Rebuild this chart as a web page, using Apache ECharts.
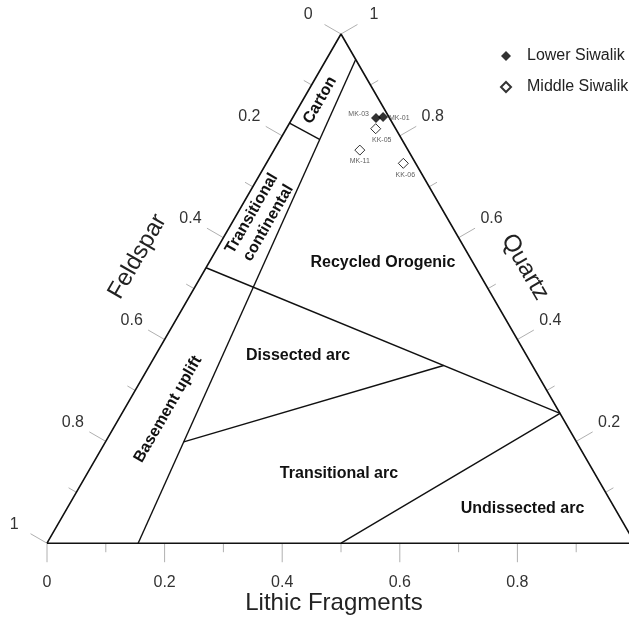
<!DOCTYPE html>
<html><head><meta charset="utf-8">
<script src="https://cdn.jsdelivr.net/npm/echarts@6/dist/echarts.min.js"></script>
<style>html,body{margin:0;padding:0;background:#fff}#c{width:629px;height:620px}</style>
</head><body><div id="c"></div>
<script>
// ---- data (fractions Q, F, L) ----
const lowerNames = ['MK-03', 'MK-01'];
const lowerQ = [0.835, 0.837];
const lowerF = [0.023, 0.010];
const lowerL = [0.142, 0.153];

const middleNames = ['KK-05', 'MK-11', 'KK-06'];
const middleQ = [0.814, 0.772, 0.746];
const middleF = [0.034, 0.082, 0.021];
const middleL = [0.152, 0.146, 0.233];

const tickValues = [0, 0.1, 0.2, 0.3, 0.4, 0.5, 0.6, 0.7, 0.8, 0.9, 1];
const labelValues = [0, 0.2, 0.4, 0.6, 0.8, 1];
const tickLabels = ['0', '0.2', '0.4', '0.6', '0.8', '1'];

const axisTitles = ['Lithic Fragments', 'Feldspar', 'Quartz'];
const fieldNames = ['Carton', 'Transitional\ncontinental', 'Recycled Orogenic', 'Dissected arc',
  'Basement uplift', 'Transitional arc', 'Undissected arc'];

// provenance field boundaries, endpoints as [Q, F, L]
const boundaryStart = [[0.95, 0, 0.05], [0.825, 0.175, 0], [0.541, 0.459, 0], [0.199, 0.668, 0.133], [0, 0.5, 0.5]];
const boundaryEnd   = [[0, 0.845, 0.155], [0.793, 0.140, 0.067], [0.255, 0, 0.745], [0.349, 0.151, 0.5], [0.255, 0, 0.745]];

// triangle vertices [Q, F, L]
const vertices = [[0, 1, 0], [0, 0, 1], [1, 0, 0], [0, 1, 0]];

// ---- ternary -> cartesian ----
const SQ = Math.sqrt(3) / 2;
function tern(q, f, l) { return [l + q / 2, q * SQ]; }
function axisPoint(a, v) {
  if (a === 0) return tern(0, 1 - v, v);   // Lithic (bottom)
  if (a === 1) return tern(1 - v, v, 0);   // Feldspar (left)
  return tern(v, 0, 1 - v);                // Quartz (right)
}
const DIRS = [[0, 1], [-SQ, -0.5], [SQ, -0.5]];

const tickData = [];
for (let a = 0; a < 3; a++) tickValues.forEach((v, i) => {
  const p = axisPoint(a, v); tickData.push([p[0], p[1], a, i % 2 === 0 ? 1 : 0]);
});
const labelData = [], labelText = [];
for (let a = 0; a < 3; a++) labelValues.forEach((v, i) => {
  const p = axisPoint(a, v); labelData.push([p[0], p[1], a]); labelText.push(tickLabels[i]);
});

// text anchors (cartesian data space) and rotations
const fieldAnchors = [[0.4643, 0.7534, 60], [0.3622, 0.5527, 60], [0.5714, 0.4779, 0], [0.4269, 0.3197, 0],
  [0.2058, 0.2279, 60], [0.4966, 0.1190, 0], [0.8087, 0.0595, 0]];
const titleAnchors = [[0.488, -0.102, 0], [0.1539, 0.4872, 60], [0.8129, 0.4694, -60]];

const FONT = '"Liberation Sans", Arial, Helvetica, sans-serif';

const labelPos = {
  'MK-03': { position: 'left', distance: 2, offset: [0, -4] },
  'MK-01': { position: 'right', distance: 1, offset: [0, 1] },
  'KK-05': { position: 'bottom', distance: 2, offset: [6, 0] },
  'MK-11': { position: 'bottom', distance: 2, offset: [0, 0] },
  'KK-06': { position: 'bottom', distance: 3, offset: [2, 0] }
};
function pointData(names, Q, F, L) {
  return names.map((n, i) => ({
    name: n, value: tern(Q[i], F[i], L[i]),
    label: Object.assign({ show: true, formatter: n, fontSize: 7, color: '#333', fontFamily: FONT }, labelPos[n])
  }));
}

const series = [];
series.push({
  type: 'line', data: vertices.map(v => tern(v[0], v[1], v[2])), symbol: 'none', silent: true,
  lineStyle: { color: '#111', width: 1.6 }, z: 3
});
boundaryStart.forEach((s, i) => {
  const e = boundaryEnd[i];
  series.push({
    type: 'line', data: [tern(s[0], s[1], s[2]), tern(e[0], e[1], e[2])], symbol: 'none', silent: true,
    lineStyle: { color: '#111', width: 1.4 }, z: 3
  });
});
series.push({
  type: 'custom', coordinateSystem: 'cartesian2d', data: tickData, silent: true, clip: false,
  renderItem: function (params, api) {
    const p = api.coord([api.value(0), api.value(1)]);
    const d = DIRS[api.value(2)], len = api.value(3) ? 19 : 9;
    return { type: 'line', shape: { x1: p[0], y1: p[1], x2: p[0] + d[0] * len, y2: p[1] + d[1] * len },
      style: { stroke: '#b0b0b0', lineWidth: 1 } };
  }
});
series.push({
  type: 'custom', coordinateSystem: 'cartesian2d', data: labelData, silent: true, clip: false,
  renderItem: function (params, api) {
    const p = api.coord([api.value(0), api.value(1)]);
    const a = api.value(2), d = DIRS[a], off = a === 0 ? 39 : 38;
    return { type: 'text', x: p[0] + d[0] * off, y: p[1] + d[1] * off,
      style: { text: labelText[params.dataIndex], fill: '#333', fontSize: 16, fontFamily: FONT,
        align: 'center', verticalAlign: 'middle' } };
  }
});
series.push({
  type: 'custom', coordinateSystem: 'cartesian2d', data: fieldAnchors, silent: true, clip: false,
  renderItem: function (params, api) {
    const p = api.coord([api.value(0), api.value(1)]);
    return { type: 'text', x: p[0], y: p[1], rotation: api.value(2) * Math.PI / 180,
      style: { text: fieldNames[params.dataIndex], fill: '#111', fontSize: 16, fontWeight: 'bold',
        fontFamily: FONT, align: 'center', verticalAlign: 'middle', lineHeight: 19 } };
  }
});
series.push({
  type: 'custom', coordinateSystem: 'cartesian2d', data: titleAnchors, silent: true, clip: false,
  renderItem: function (params, api) {
    const p = api.coord([api.value(0), api.value(1)]);
    return { type: 'text', x: p[0], y: p[1], rotation: api.value(2) * Math.PI / 180,
      style: { text: axisTitles[params.dataIndex], fill: '#222', fontSize: 24,
        fontFamily: FONT, align: 'center', verticalAlign: 'middle' } };
  }
});
series.push({
  name: 'Lower Siwalik', type: 'scatter', symbol: 'diamond', symbolSize: 10, z: 5,
  itemStyle: { color: '#000' }, data: pointData(lowerNames, lowerQ, lowerF, lowerL)
});
series.push({
  name: 'Middle Siwalik', type: 'scatter', symbol: 'diamond', symbolSize: 10, z: 5,
  itemStyle: { color: '#fff', borderColor: '#000', borderWidth: 1 },
  data: pointData(middleNames, middleQ, middleF, middleL)
});

const W = 629, LEFT = 47, SIDE = 588;
const chart = echarts.init(document.getElementById('c'), null, { renderer: 'canvas' });
chart.setOption({
  animation: false,
  backgroundColor: '#fff',
  grid: { left: LEFT, right: 0, top: 34, height: SIDE * SQ, containLabel: false },
  xAxis: { type: 'value', min: 0, max: (W - LEFT) / SIDE, show: false },
  yAxis: { type: 'value', min: 0, max: SQ, show: false },
  legend: {
    orient: 'vertical', left: 495, top: 43, icon: 'diamond', itemWidth: 10, itemHeight: 10, itemGap: 15,
    data: ['Lower Siwalik', 'Middle Siwalik'], selectedMode: false,
    textStyle: { fontSize: 16, color: '#222', fontFamily: FONT, padding: [0, 0, 0, 11], lineHeight: 16 }
  },
  series: series
});
</script></body></html>
